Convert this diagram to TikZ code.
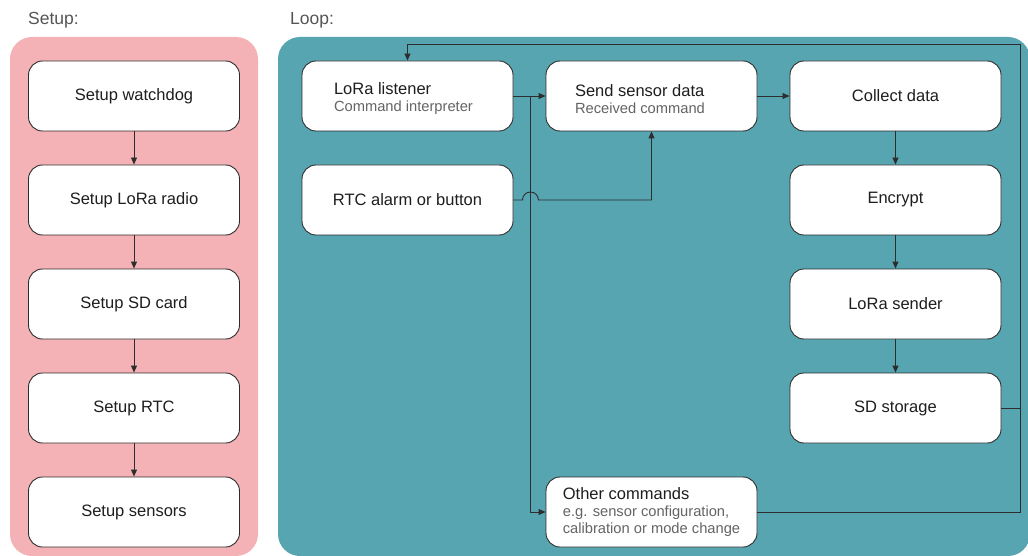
\documentclass[tikz,border=0pt]{standalone}
\usepackage{fontspec}
\setmainfont{Liberation Sans}
\usetikzlibrary{arrows.meta}
\definecolor{pinkbg}{RGB}{245,178,182}
\definecolor{tealbg}{RGB}{88,165,178}
\definecolor{linec}{RGB}{45,45,45}
\definecolor{txtc}{RGB}{30,30,30}
\definecolor{subc}{RGB}{100,100,100}
\definecolor{titlec}{RGB}{85,85,85}
\newcommand{\mainsz}{\fontsize{16.5}{17}\selectfont}
\newcommand{\subsz}{\fontsize{14.7}{17.5}\selectfont\color{subc}}
\newcommand{\lowerstrut}{\rule{0pt}{18pt}}
\tikzset{
  box/.style={draw=linec, line width=0.9pt, fill=white, rounded corners=14pt,
    minimum width=211pt, minimum height=70pt, inner sep=0pt, align=left,
    text=txtc, font=\mainsz},
  inset/.style={text width=211pt-2*#1, align=flush left},
  panel/.style={rounded corners=22pt},
  conn/.style={draw=linec, line width=0.9pt},
  arr/.style={conn, -{Triangle[length=7pt,width=6pt]}},
  ttl/.style={anchor=west, text=titlec, font=\fontsize{17.5}{18}\selectfont, inner sep=0pt}
}
\begin{document}
\begin{tikzpicture}[x=1pt,y=-1pt]
\useasboundingbox (0,0) rectangle (1028,556);
% panels
\fill[pinkbg, panel] (10,37) rectangle (258,556);
\fill[tealbg, panel] (278,37) rectangle (1030,556);
\node[ttl] (tsetup) at (28,20) {Setup:};
\node[ttl] (tloop) at (290,20) {Loop:};
% setup column
\node[box] (s1) at (134,96) {Setup watchdog};
\node[box] (s2) at (134,200) {Setup LoRa radio};
\node[box] (s3) at (134,304) {Setup SD card};
\node[box] (s4) at (134,408) {Setup RTC};
\node[box] (s5) at (134,512) {Setup sensors};
\draw[arr] (s1) -- (s2);
\draw[arr] (s2) -- (s3);
\draw[arr] (s3) -- (s4);
\draw[arr] (s4) -- (s5);
% loop
\node[box, inset=32pt] (listener) at (407.5,96) {\lowerstrut LoRa listener\\{\subsz Command interpreter}};
\node[box, inset=29pt] (send) at (651.5,96) {\lowerstrut Send sensor data\\{\subsz Received command}};
\node[box] (collect) at (895.5,96) {Collect data};
\node[box] (rtc) at (407.5,200) {RTC alarm or button};
\node[box] (encrypt) at (895.5,200) {Encrypt};
\node[box] (sender) at (895.5,304) {LoRa sender};
\node[box] (sd) at (895.5,408) {SD storage};
\node[box] (other) at (651.5,512) {Other commands\\{\subsz e.g. sensor configuration,}\\{\subsz calibration or mode change}};
\coordinate (br) at (530,96);
\coordinate (rr) at (1020,44);
\draw[arr] (listener.east) -- (send.west);
\draw[arr] (br) |- (other.west);
\draw[arr] (rtc.east) -- ++(9,0) arc[start angle=180, end angle=360, radius=8] -| (send.south);
\draw[arr] (send) -- (collect);
\draw[arr] (collect) -- (encrypt);
\draw[arr] (encrypt) -- (sender);
\draw[arr] (sender) -- (sd);
\draw[conn] (sd.east) -- (sd.east -| rr);
\draw[arr] (other.east) -| (rr) -| (listener.north);
\end{tikzpicture}
\end{document}
